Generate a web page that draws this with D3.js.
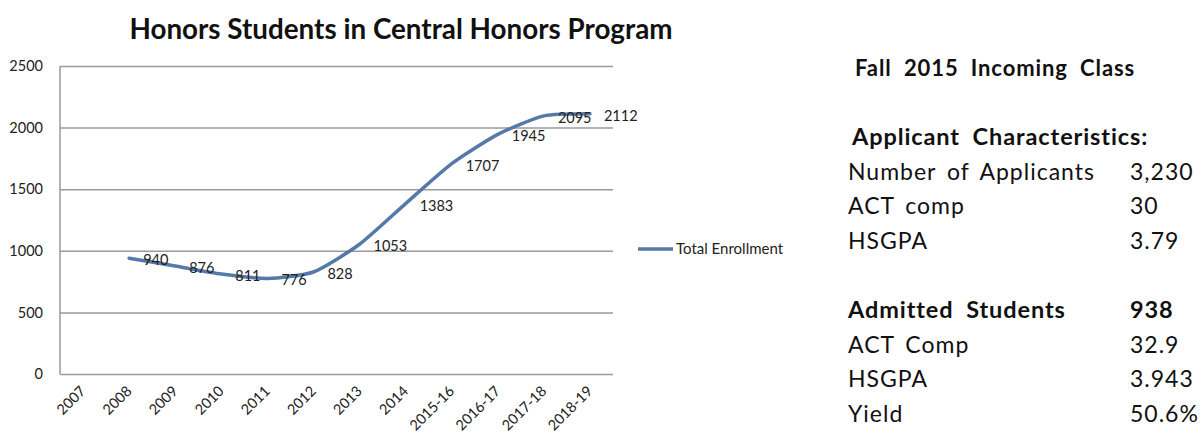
<!DOCTYPE html>
<html>
<head>
<meta charset="utf-8">
<script src="https://cdn.jsdelivr.net/npm/d3@7"></script>
<style>
  body { margin: 0; background: #fff; }
  text { font-family: Lato, "Open Sans", sans-serif; }
</style>
</head>
<body>
<div id="vis"></div>
<script>
// data
const YEARS = ["2007", "2008", "2009", "2010", "2011", "2012", "2013", "2014",
               "2015-16", "2016-17", "2017-18", "2018-19"]
const ENROLLMENT = [null, 940, 876, 811, 776, 828, 1053, 1383, 1707, 1945, 2095, 2112]
const Y_TICKS = [0, 500, 1000, 1500, 2000, 2500]
const SERIES_NAME = "Total Enrollment"
const CHART_TITLE = "Honors Students in Central Honors Program"

// side panel text
const PANEL_TITLE = "Fall 2015 Incoming Class"
const APPLICANT_HEAD = "Applicant Characteristics:"
const APPLICANT_LABELS = ["Number of Applicants", "ACT comp", "HSGPA"]
const APPLICANT_VALUES = ["3,230", "30", "3.79"]
const ADMITTED_HEAD = ["Admitted Students", "938"]
const ADMITTED_LABELS = ["ACT Comp", "HSGPA", "Yield"]
const ADMITTED_VALUES = ["32.9", "3.943", "50.6%"]

const FRAME_WIDTH = 1203
const FRAME_HEIGHT = 434
const PLOT = {left: 60, right: 613, top: 66, bottom: 374}
const LINE_COLOR = "#5579a8"
const GRID_COLOR = "#9a9a9a"

const svg = d3.select("#vis")
              .append("svg")
              .attr("width", FRAME_WIDTH)
              .attr("height", FRAME_HEIGHT)

const x = d3.scalePoint()
            .domain(YEARS)
            .range([PLOT.left, PLOT.right])
            .padding(0.5)

const y = d3.scaleLinear()
            .domain([0, 2500])
            .range([PLOT.bottom, PLOT.top])

// horizontal grid lines + y labels
svg.append("g")
   .attr("transform", "translate(" + PLOT.left + ",0)")
   .call(d3.axisLeft(y).tickValues(Y_TICKS).tickFormat(d3.format("d"))
           .tickSize(-(PLOT.right - PLOT.left)).tickPadding(17))
   .call(g => g.select(".domain").remove())
   .call(g => g.selectAll(".tick line").attr("stroke", GRID_COLOR).attr("stroke-width", 1.5))
   .call(g => g.selectAll(".tick text")
               .attr("font-family", "Lato").attr("font-size", "14.5px").attr("fill", "#222"))

// left axis line
svg.append("line")
   .attr("x1", PLOT.left).attr("x2", PLOT.left)
   .attr("y1", y(2500)).attr("y2", y(0))
   .attr("stroke", GRID_COLOR).attr("stroke-width", 1.5)

// x axis labels (rotated)
svg.append("g")
   .attr("transform", "translate(0," + PLOT.bottom + ")")
   .call(d3.axisBottom(x).tickSize(0).tickPadding(0))
   .call(g => g.select(".domain").remove())
   .call(g => g.selectAll(".tick text")
               .attr("font-family", "Lato").attr("font-size", "14.5px").attr("fill", "#222")
               .attr("text-anchor", "end")
               .attr("dy", null)
               .attr("transform", "translate(3,18) rotate(-45)"))

// the line
const pts = YEARS.map((yr, i) => ({year: yr, value: ENROLLMENT[i]}))
                 .filter(d => d.value !== null)

const line = d3.line()
               .x(d => x(d.year))
               .y(d => y(d.value))
               .curve(d3.curveCardinal.tension(0.4))

svg.append("path")
   .datum(pts)
   .attr("d", line)
   .attr("fill", "none")
   .attr("stroke", LINE_COLOR)
   .attr("stroke-width", 3.5)
   .attr("stroke-linecap", "round")

// data labels
svg.selectAll(".dlabel")
   .data(pts)
   .enter()
   .append("text")
   .attr("class", "dlabel")
   .attr("x", d => x(d.year) + 14)
   .attr("y", d => y(d.value) + 7)
   .attr("font-size", "14.5px")
   .attr("fill", "#222")
   .text(d => d.value)

// title
svg.append("text")
   .attr("x", 401)
   .attr("y", 39)
   .attr("text-anchor", "middle")
   .attr("font-size", "27.8px")
   .attr("font-weight", "bold")
   .attr("fill", "#111")
   .text(CHART_TITLE)

// legend
svg.append("line")
   .attr("x1", 638).attr("x2", 673)
   .attr("y1", 249).attr("y2", 249)
   .attr("stroke", LINE_COLOR).attr("stroke-width", 3.5)
svg.append("text")
   .attr("x", 676)
   .attr("y", 254)
   .attr("font-size", "15px")
   .attr("fill", "#222")
   .text(SERIES_NAME)

// side panel
const LEFT_X = 848
const VAL_X = 1130
const PANEL_FS = "23px"
const HEAD_FS = "23.5px"

function bodyText(txt, xx, yy) {
  return svg.append("text").attr("x", xx).attr("y", yy)
            .attr("font-size", PANEL_FS).attr("fill", "#111")
            .attr("letter-spacing", "1px").attr("word-spacing", "4px")
            .text(txt)
}

function headText(txt, xx, yy, fs) {
  return svg.append("text").attr("x", xx).attr("y", yy)
            .attr("font-size", fs).attr("font-weight", "bold").attr("fill", "#111")
            .attr("letter-spacing", "0.9px").attr("word-spacing", "6px")
            .text(txt)
}

headText(PANEL_TITLE, 855, 76, "22px")
headText(APPLICANT_HEAD, 852, 145, HEAD_FS)

APPLICANT_LABELS.forEach((lab, i) => {
  bodyText(lab, LEFT_X, 180 + i * 34.3)
  bodyText(APPLICANT_VALUES[i], VAL_X, 180 + i * 34.3)
})

headText(ADMITTED_HEAD[0], LEFT_X, 318, HEAD_FS)
headText(ADMITTED_HEAD[1], VAL_X, 318, HEAD_FS)

ADMITTED_LABELS.forEach((lab, i) => {
  bodyText(lab, LEFT_X, 352.5 + i * 34.5)
  bodyText(ADMITTED_VALUES[i], VAL_X, 352.5 + i * 34.5)
})
</script>
</body>
</html>
